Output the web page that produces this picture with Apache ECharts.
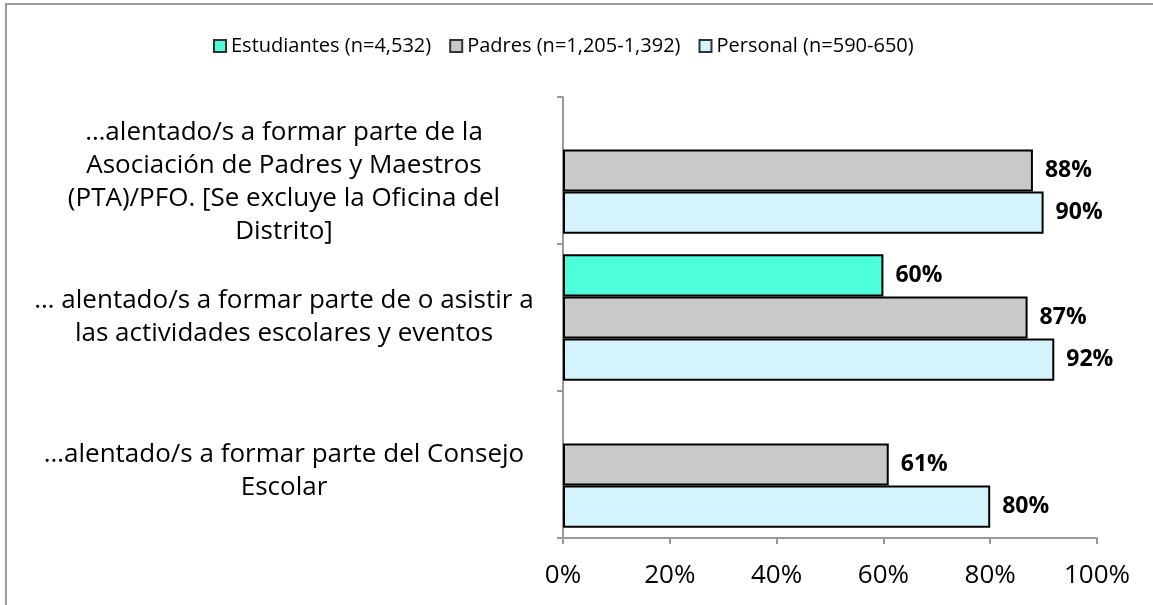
<!DOCTYPE html>
<html>
<head>
<meta charset="utf-8">
<script src="https://cdn.jsdelivr.net/npm/echarts@6/dist/echarts.min.js"></script>
<style>
  html, body { margin: 0; padding: 0; background: #fff; }
  #chart { width: 1153px; height: 605px; }
</style>
</head>
<body>
<div id="chart"></div>
<script>
// categorías (de arriba hacia abajo)
const categories = [
  '…alentado/s a formar parte de la\nAsociación de Padres y Maestros\n(PTA)/PFO. [Se excluye la Oficina del\nDistrito]',
  '… alentado/s a formar parte de o asistir a\nlas actividades escolares y eventos',
  '…alentado/s a formar parte del Consejo\nEscolar'
];
const seriesNames = ['Estudiantes (n=4,532)', 'Padres (n=1,205-1,392)', 'Personal (n=590-650)'];
const estudiantes = [null, 60, null];
const padres = [88, 87, 61];
const personal = [90, 92, 80];
const xTicks = [0, 20, 40, 60, 80, 100];

const FONT = '"Open Sans"';
const colors = ['#4dffd9', '#c9c9c9', '#d5f3fd'];

let myChart = echarts.init(document.getElementById('chart'));

function makeSeries(name, data, color) {
  return {
    name: name,
    type: 'bar',
    data: data,
    barGap: '0%',
    barCategoryGap: '14%',
    itemStyle: {
      color: color,
      borderColor: '#000',
      borderWidth: 2
    },
    label: {
      show: true,
      position: 'right',
      distance: 12,
      formatter: p => p.value == null ? '' : p.value + '%',
      fontFamily: FONT,
      fontWeight: 'bold',
      fontSize: 23,
      color: '#000'
    }
  };
}

// estilo de texto de las categorías; una línea vacía al inicio baja
// el bloque un poco (como en el original de Excel)
const txt = { fontFamily: FONT, fontSize: 26, lineHeight: 33, color: '#000' };
const rich = {
  n: txt,
  s0: { fontSize: 4, lineHeight: 24 },
  s2: { fontSize: 4, lineHeight: 14 }
};
const spacer = ['{s0| }\n', '', '{s2| }\n'];

let option = {
  animation: false,
  backgroundColor: '#fff',
  graphic: [{
    type: 'polyline',
    shape: { points: [[6, 605], [6, 4], [1153, 4]] },
    style: { stroke: '#9a9a9a', lineWidth: 2, fill: null }
  }],
  legend: {
    top: 31,
    left: 208,
    itemWidth: 12,
    itemHeight: 12,
    itemGap: 18,
    textStyle: { fontFamily: FONT, fontSize: 20, color: '#000' },
    data: seriesNames.map((n, i) => ({
      name: n,
      icon: 'rect',
      itemStyle: { color: colors[i], borderColor: '#333', borderWidth: 2 }
    }))
  },
  grid: {
    left: 563,
    right: 56,
    top: 97,
    bottom: 67,
    containLabel: false,
    outerBoundsMode: 'none'
  },
  xAxis: {
    type: 'value',
    min: 0,
    max: 100,
    interval: 20,
    axisLine: { show: true, lineStyle: { color: '#999', width: 2 } },
    axisTick: { show: true, length: 6, lineStyle: { color: '#999', width: 2 } },
    splitLine: { show: false },
    axisLabel: {
      margin: 25,
      fontFamily: FONT,
      fontSize: 26,
      color: '#000',
      formatter: v => xTicks.indexOf(v) >= 0 ? v + '%' : ''
    }
  },
  yAxis: {
    type: 'category',
    inverse: true,
    data: categories,
    axisLine: { show: true, lineStyle: { color: '#999', width: 2 } },
    axisTick: { show: true, length: 6, lineStyle: { color: '#999', width: 2 } },
    axisLabel: Object.assign({
      margin: 279,
      align: 'center',
      rich: rich,
      formatter: (value, index) => spacer[index] + value.split('\n')
        .map(l => '{n|' + l + '}')
        .join('\n')
    }, txt)
  },
  series: [
    makeSeries(seriesNames[0], estudiantes, colors[0]),
    makeSeries(seriesNames[1], padres, colors[1]),
    makeSeries(seriesNames[2], personal, colors[2])
  ]
};

myChart.setOption(option);
</script>
</body>
</html>
